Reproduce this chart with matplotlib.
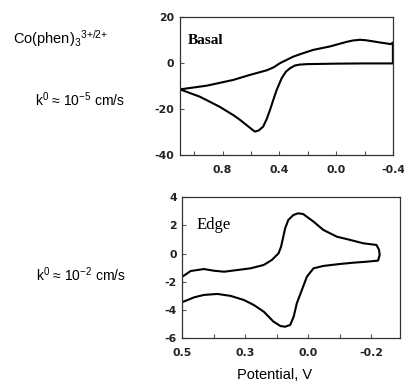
import matplotlib
matplotlib.use("Agg")
import matplotlib.pyplot as plt
from matplotlib.ticker import MultipleLocator

plt.rcParams['font.family'] = ['Liberation Sans', 'DejaVu Sans']
plt.rcParams['mathtext.default'] = 'regular'

# Basal plane CV (forward scan then return scan), potential in V, current in uA
basal_v = [1.10, 0.96, 0.82, 0.72, 0.677, 0.62, 0.59, 0.572, 0.545, 0.515, 0.49, 0.466,
           0.44, 0.419, 0.384, 0.355, 0.325, 0.29, 0.255, 0.2, 0.0, -0.2, -0.40,
           -0.40, -0.385, -0.356, -0.30, -0.262, -0.21, -0.168, -0.12, -0.074, 0.043,
           0.161, 0.25, 0.304, 0.35, 0.396, 0.44, 0.489, 0.607, 0.725, 0.912, 1.10]
basal_i = [-11.4, -14.6, -19.0, -22.8, -24.7, -27.5, -29.0, -29.8, -29.3, -27.7, -24.5, -20.4,
           -15.5, -11.7, -6.6, -3.8, -2.2, -1.0, -0.6, -0.4, -0.2, -0.1, -0.1,
           9.0, 8.3, 8.6, 9.1, 9.5, 10.0, 10.2, 9.9, 9.3, 7.3,
           5.8, 4.0, 2.8, 1.4, 0.0, -1.8, -3.1, -5.1, -7.3, -9.8, -11.4]

# Edge plane CV
edge_v = [0.397, 0.374, 0.332, 0.300, 0.268, 0.226, 0.184, 0.142, 0.116, 0.095, 0.087,
          0.074, 0.064, 0.048, 0.033, 0.017, -0.016, -0.047, -0.090, -0.132, -0.174,
          -0.216, -0.224, -0.226, -0.221, -0.184, -0.142, -0.100, -0.047, -0.016, 0.005,
          0.021, 0.037, 0.047, 0.058, 0.074, 0.089, 0.111, 0.142, 0.174, 0.205, 0.247,
          0.289, 0.332, 0.363, 0.397]
edge_i = [-1.59, -1.24, -1.10, -1.22, -1.29, -1.17, -1.05, -0.81, -0.45, 0.02, 0.49,
          1.80, 2.39, 2.74, 2.86, 2.81, 2.27, 1.68, 1.20, 0.97, 0.73,
          0.61, 0.26, -0.10, -0.50, -0.58, -0.65, -0.74, -0.88, -1.05, -1.64,
          -2.59, -3.53, -4.48, -5.07, -5.20, -5.15, -4.84, -4.13, -3.65, -3.30, -3.01,
          -2.87, -2.94, -3.11, -3.42]

basal_xticks = [0.8, 0.4, 0.0, -0.4]
basal_xlabels = ["0.8", "0.4", "0.0", "-0.4"]
basal_yticks = [20, 0, -20, -40]
edge_xticks = [0.4, 0.2, 0.0, -0.2]
edge_xlabels = ["0.5", "0.3", "0.0", "-0.2"]
edge_yticks = [4, 2, 0, -2, -4, -6]

fig = plt.figure(figsize=(4.04, 3.85), dpi=100)
ax1 = fig.add_axes([0.4455, 0.5974, 0.527, 0.3577])
ax2 = fig.add_axes([0.4517, 0.1221, 0.538, 0.3655])

tickfont = dict(family='DejaVu Sans', weight='bold', size=7.8, color='#222222')

ax1.plot(basal_v, basal_i, color='black', lw=1.5)
ax1.set_xlim(1.1, -0.4)
ax1.set_ylim(-40, 20)
ax1.set_xticks(basal_xticks)
ax1.set_xticklabels(basal_xlabels, **tickfont)
ax1.set_yticks(basal_yticks)
ax1.set_yticklabels([str(t) for t in basal_yticks], **tickfont)
ax1.xaxis.set_minor_locator(MultipleLocator(0.2))
ax1.text(0.038, 0.835, "Basal", transform=ax1.transAxes, family='Liberation Serif',
         weight='bold', size=11, va='center', ha='left')

ax2.plot(edge_v, edge_i, color='black', lw=1.5)
ax2.set_xlim(0.4, -0.29)
ax2.set_ylim(-6, 4)
ax2.set_xticks(edge_xticks)
ax2.set_xticklabels(edge_xlabels, **tickfont)
ax2.set_yticks(edge_yticks)
ax2.set_yticklabels([str(t) for t in edge_yticks], **tickfont)
ax2.xaxis.set_minor_locator(MultipleLocator(0.1))
ax2.text(0.064, 0.803, "Edge", transform=ax2.transAxes, family='Liberation Serif',
         size=12, va='center', ha='left')

for ax in (ax1, ax2):
    for s in ax.spines.values():
        s.set_linewidth(0.9)
        s.set_color('#333333')
    ax.tick_params(which='both', direction='in', length=3, width=0.8, color='#555555')
    ax.tick_params(axis='x', which='major', pad=7)
    ax.tick_params(axis='y', which='major', pad=4)

fig.text(0.032, 0.901, "Co(phen)$_3$$^{3{+}/2{+}}$", size=10.5, va='center', ha='left')
fig.text(0.087, 0.740, "k$^0$ \u2248 10$^{-5}$ cm/s", size=10, va='center', ha='left')
fig.text(0.089, 0.286, "k$^0$ \u2248 10$^{-2}$ cm/s", size=10, va='center', ha='left')
fig.text(0.68, 0.026, "Potential, V", size=10.5, va='center', ha='center')

fig.savefig("out.png", dpi=100)
